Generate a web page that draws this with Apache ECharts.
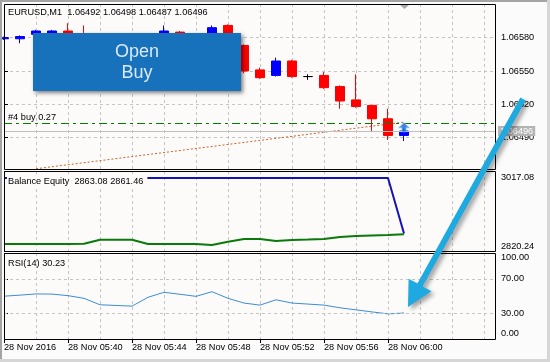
<!DOCTYPE html>
<html><head><meta charset="utf-8">
<script src="https://cdn.jsdelivr.net/npm/echarts@6/dist/echarts.min.js"></script>
<style>html,body{margin:0;padding:0;background:#fbfbfb;}#c{width:550px;height:362px;}</style>
</head><body><div id="c"></div>
<script>
// ---------- data ----------
const symbolName = 'EURUSD,M1';
const bars = [0,1,2,3,4,5,6,7,8,9,10,11,12,13,14,15,16,17,18,19,20,21,22,23,24,25];
const opens  = [1.06579,1.06579,1.06583,1.06583,1.06586,1.06581,1.06576,1.06567,1.06566,1.06567,1.06579,1.06585,1.06582,1.06580,1.06591,1.06573,1.06551,1.06546,1.06559,1.06545,1.06546,1.06536,1.06524,1.06519,1.06507,1.06492];
const closes = [1.06580,1.06581,1.06586,1.06586,1.06580,1.06576,1.06567,1.06566,1.06567,1.06579,1.06586,1.06582,1.06580,1.06589,1.06574,1.06550,1.06544,1.06559,1.06545,1.06545,1.06535,1.06523,1.06518,1.06507,1.06492,1.06496];
const lows   = [1.06578,1.06575,1.06581,1.06582,1.06578,1.06573,1.06564,1.06562,1.06563,1.06565,1.06577,1.06580,1.06577,1.06579,1.06572,1.06548,1.06543,1.06545,1.06544,1.06542,1.06534,1.06516,1.06517,1.06495,1.06488,1.06487];
const highs  = [1.06581,1.06582,1.06587,1.06587,1.06593,1.06591,1.06578,1.06570,1.06570,1.06581,1.06591,1.06586,1.06583,1.06591,1.06592,1.06574,1.06553,1.06562,1.06560,1.06547,1.06549,1.06537,1.06547,1.06519,1.06516,1.06498];
const priceTicks = [1.06490, 1.06520, 1.06550, 1.06580];
const priceAxisMin = 1.064618, priceAxisMax = 1.066103;
const bidPrice = 1.06496;
const orderPrice = 1.06503;
const orderLabel = '#4 buy 0.27';
const orderBar = 25;
const tradeLineBars = [2, 25];
const tradeLinePrices = [1.06462, 1.06504];
const balance = [3000,3000,3000,3000,3000,3000,3000,3000,3000,3000,3000,3000,3000,3000,3000,3000,3000,3000,3000,3000,3000,3000,3000,3000,3000,2863.08];
const equity  = [2837.5,2837.5,2837.5,2837.5,2837.5,2838,2848,2848,2848,2837.5,2837.5,2837.5,2837.5,2835,2843,2849.8,2849.8,2844.8,2847.3,2848.5,2849.8,2854.7,2857.2,2858.4,2859.6,2861.46];
const balanceTicks = [2820.24, 3017.08];
const rsi = [49.8,51,52.4,52.2,50.4,47.3,39.8,39,38.2,48.5,54.3,52,49.6,55,47.3,41.8,39.4,45.6,41.8,40.6,39.4,36.3,33.9,31.5,29.2,30.23];
const rsiTicks = [0, 30, 70, 100];
const rsiLevels = [30, 70];
const timeLabels = ['28 Nov 2016','28 Nov 05:40','28 Nov 05:44','28 Nov 05:48','28 Nov 05:52','28 Nov 05:56','28 Nov 06:00'];
const timeLabelBars = [0, 4, 8, 12, 16, 20, 24];

// ---------- layout / style ----------
const FONT = '"Liberation Sans", Arial, sans-serif';
const FS = 9.2;
const BG = '#fdfafa';
const GRIDC = '#c4c4c4';
const PLOT_LEFT = 4, PLOT_RIGHT = 495, BAR_PX = 16;
const xMax = (PLOT_RIGHT - PLOT_LEFT) / BAR_PX;
const gridBars = []; for (let b = 2; b < xMax; b += 2) gridBars.push(b);
const G = [
  {top: 4, height: 165},
  {top: 171, height: 80},
  {top: 253, height: 86}
];

const chart = echarts.init(document.getElementById('c'), null, {renderer: 'canvas', width: 550, height: 362});

function gx(i) {
  return {type: 'value', gridIndex: i, min: 0, max: xMax,
    axisLine: {show: false}, axisTick: {show: false, customValues: gridBars},
    axisLabel: {show: false},
    splitLine: {show: true, lineStyle: {color: GRIDC, type: [3, 3], width: 1}}};
}
const labelStyle = {color: '#000', fontSize: FS, fontFamily: FONT};

const balSpan = balanceTicks[1] - balanceTicks[0];
const balPx = balSpan / G[1].height;
const balLabelPos = [balanceTicks[0] + 5 * balPx, balanceTicks[1] - 6 * balPx];
const rsiPx = 100 / G[2].height;
const rsiLabelPos = [0 + 6 * rsiPx, 30, 70, 100 - 4 * rsiPx];

function nearest(arr, v) { let best = arr[0]; arr.forEach(a => { if (Math.abs(a - v) < Math.abs(best - v)) best = a; }); return best; }

const candleData = bars.map((b, i) => [b, opens[i], closes[i], lows[i], highs[i]]);

// crisp panel borders
const borders = G.map(g => ({type: 'rect', z: 40, silent: true,
  shape: {x: PLOT_LEFT + 0.5, y: g.top + 0.5, width: PLOT_RIGHT - PLOT_LEFT, height: g.height},
  style: {fill: null, stroke: '#000', lineWidth: 1}}));

const option = {
  backgroundColor: '#fbfbfb',
  animation: false,
  textStyle: {fontFamily: FONT},
  grid: G.map(g => ({left: PLOT_LEFT, right: 550 - PLOT_RIGHT, top: g.top, height: g.height,
    show: true, backgroundColor: BG, borderWidth: 0, containLabel: false})),
  xAxis: [gx(0), gx(1), gx(2),
    {type: 'value', gridIndex: 2, min: 0, max: xMax, position: 'bottom',
      axisLine: {show: false},
      axisTick: {show: true, length: 4, customValues: timeLabelBars, lineStyle: {color: '#000'}},
      axisLabel: Object.assign({show: true, customValues: timeLabelBars, align: 'left', margin: 4,
        formatter: v => timeLabels[timeLabelBars.indexOf(v)] || ''}, labelStyle),
      splitLine: {show: false}}
  ],
  yAxis: [
    {type: 'value', gridIndex: 0, position: 'right', min: priceAxisMin, max: priceAxisMax,
      axisLine: {show: false},
      axisTick: {show: true, length: 4, customValues: priceTicks, lineStyle: {color: '#000'}},
      axisLabel: Object.assign({customValues: priceTicks, margin: 6, formatter: v => v.toFixed(5)}, labelStyle),
      splitLine: {show: true, lineStyle: {color: GRIDC, type: [3, 3]}}},
    {type: 'value', gridIndex: 1, position: 'right', min: balanceTicks[0], max: balanceTicks[1],
      axisLine: {show: false},
      axisTick: {show: true, length: 4, customValues: balanceTicks, lineStyle: {color: '#000'}},
      axisLabel: Object.assign({customValues: balLabelPos, margin: 6,
        formatter: v => nearest(balanceTicks, v).toFixed(2)}, labelStyle),
      splitLine: {show: false}},
    {type: 'value', gridIndex: 2, position: 'right', min: 0, max: 100,
      axisLine: {show: false},
      axisTick: {show: true, length: 4, customValues: rsiTicks, lineStyle: {color: '#000'}},
      axisLabel: Object.assign({customValues: rsiLabelPos, margin: 6,
        formatter: v => nearest(rsiTicks, v).toFixed(2)}, labelStyle),
      splitLine: {show: false}}
  ],
  series: [
    {type: 'line', xAxisIndex: 0, yAxisIndex: 0, z: 1, silent: true, symbol: 'none',
      data: tradeLineBars.map((b, i) => [b, tradeLinePrices[i]]),
      lineStyle: {color: '#c8642c', width: 1, type: [2, 2]},
      markLine: {silent: true, symbol: 'none', animation: false, precision: 6,
        data: [
          {yAxis: bidPrice, lineStyle: {color: '#c0c0c0', type: 'solid', width: 1},
            label: {show: true, position: 'end', distance: 3, formatter: bidPrice.toFixed(5),
              color: '#ffffff', backgroundColor: '#b4b4b4', padding: [1, 2, 0, 2], fontSize: FS, fontFamily: FONT}},
          {yAxis: orderPrice, lineStyle: {color: '#008000', type: [8, 4, 3, 4], width: 1}, label: {show: false}}
        ]}},
    {type: 'candlestick', xAxisIndex: 0, yAxisIndex: 0, z: 2,
      encode: {x: 0, y: [1, 2, 3, 4]},
      data: candleData, barWidth: 10,
      itemStyle: {color: '#0000ff', color0: '#ff0000', borderColor: '#0000ff', borderColor0: '#ff0000',
        borderColorDoji: '#000000', borderWidth: 1}},
    {type: 'scatter', xAxisIndex: 0, yAxisIndex: 0, z: 5, silent: true,
      data: [[orderBar, orderPrice]],
      symbol: 'path://M5,0 L10,5 L7,5 L7,9 L3,9 L3,5 L0,5 Z', symbolSize: [10, 9], symbolOffset: [0, 4],
      itemStyle: {color: '#1a5fd0', borderColor: '#5cc0ff', borderWidth: 1}},
    {type: 'line', xAxisIndex: 1, yAxisIndex: 1, symbol: 'none', silent: true,
      data: bars.map((b, i) => [b, balance[i]]),
      lineStyle: {color: '#1414b4', width: 2}},
    {type: 'line', xAxisIndex: 1, yAxisIndex: 1, symbol: 'none', silent: true,
      data: bars.map((b, i) => [b, equity[i]]),
      lineStyle: {color: '#0a7a0a', width: 2}},
    {type: 'line', xAxisIndex: 2, yAxisIndex: 2, symbol: 'none', silent: true,
      data: bars.map((b, i) => [b, rsi[i]]),
      lineStyle: {color: '#3a8fd2', width: 1},
      markLine: {silent: true, symbol: 'none', animation: false, label: {show: false}, precision: 2,
        lineStyle: {color: GRIDC, type: [3, 3], width: 1},
        data: rsiLevels.map(v => ({yAxis: v}))}}
  ],
  graphic: borders.concat([
    // outer frame
    {type: 'rect', shape: {x: 0, y: 0, width: 550, height: 2}, style: {fill: '#a4a4a4'}, z: 200},
    {type: 'rect', shape: {x: 0, y: 0, width: 2, height: 362}, style: {fill: '#a4a4a4'}, z: 200},
    {type: 'rect', shape: {x: 547, y: 0, width: 3, height: 362}, style: {fill: '#d6d6d6'}, z: 200},
    {type: 'rect', shape: {x: 0, y: 359, width: 550, height: 3}, style: {fill: '#d6d6d6'}, z: 200},
    // chart shift marker
    {type: 'polygon', shape: {points: [[400, 5], [409, 5], [404.5, 9]]}, style: {fill: '#a8a8a8'}, z: 50},
    // texts
    {type: 'text', x: 8, y: 12, z: 60, style: {
      text: symbolName + '  ' + [opens[25], highs[25], lows[25], closes[25]].map(v => v.toFixed(5)).join(' '),
      fill: '#000', font: FS + 'px ' + FONT, verticalAlign: 'middle'}},
    {type: 'text', x: 8, y: 117, z: 60, style: {text: orderLabel, fill: '#000', font: FS + 'px ' + FONT, verticalAlign: 'middle'}},
    {type: 'text', x: 7, y: 181, z: 60, style: {
      text: 'Balance Equity  ' + balance[balance.length - 1].toFixed(2) + ' ' + equity[equity.length - 1].toFixed(2),
      fill: '#000', font: FS + 'px ' + FONT, verticalAlign: 'middle', backgroundColor: BG, padding: [1, 4, 1, 1]}},
    {type: 'text', x: 8, y: 263, z: 60, style: {text: 'RSI(14) ' + rsi[rsi.length - 1].toFixed(2),
      fill: '#000', font: FS + 'px ' + FONT, verticalAlign: 'middle'}},
    // Open Buy button
    {type: 'rect', shape: {x: 33, y: 33, width: 208, height: 58}, z: 100,
      style: {fill: '#1772bb', shadowBlur: 4, shadowOffsetX: 2, shadowOffsetY: 2, shadowColor: 'rgba(0,0,0,0.5)'}},
    {type: 'text', x: 137, y: 52, z: 101, style: {text: 'Open', fill: '#dce9f6', font: '18px ' + FONT, align: 'center', verticalAlign: 'middle'}},
    {type: 'text', x: 137, y: 73, z: 101, style: {text: 'Buy', fill: '#dce9f6', font: '18px ' + FONT, align: 'center', verticalAlign: 'middle'}},
    // annotation arrow
    {type: 'polygon', z: 150, shape: {points: [[520.4, 97.5], [525.6, 100.5], [422.6, 286.5], [431.5, 291.3], [408, 307], [408.6, 278.7], [417.4, 283.5]]},
      style: {fill: '#1eaae0', shadowBlur: 4, shadowOffsetX: 3, shadowOffsetY: 3, shadowColor: 'rgba(0,0,0,0.35)'}}
  ])
};
chart.setOption(option);
</script>
</body></html>
